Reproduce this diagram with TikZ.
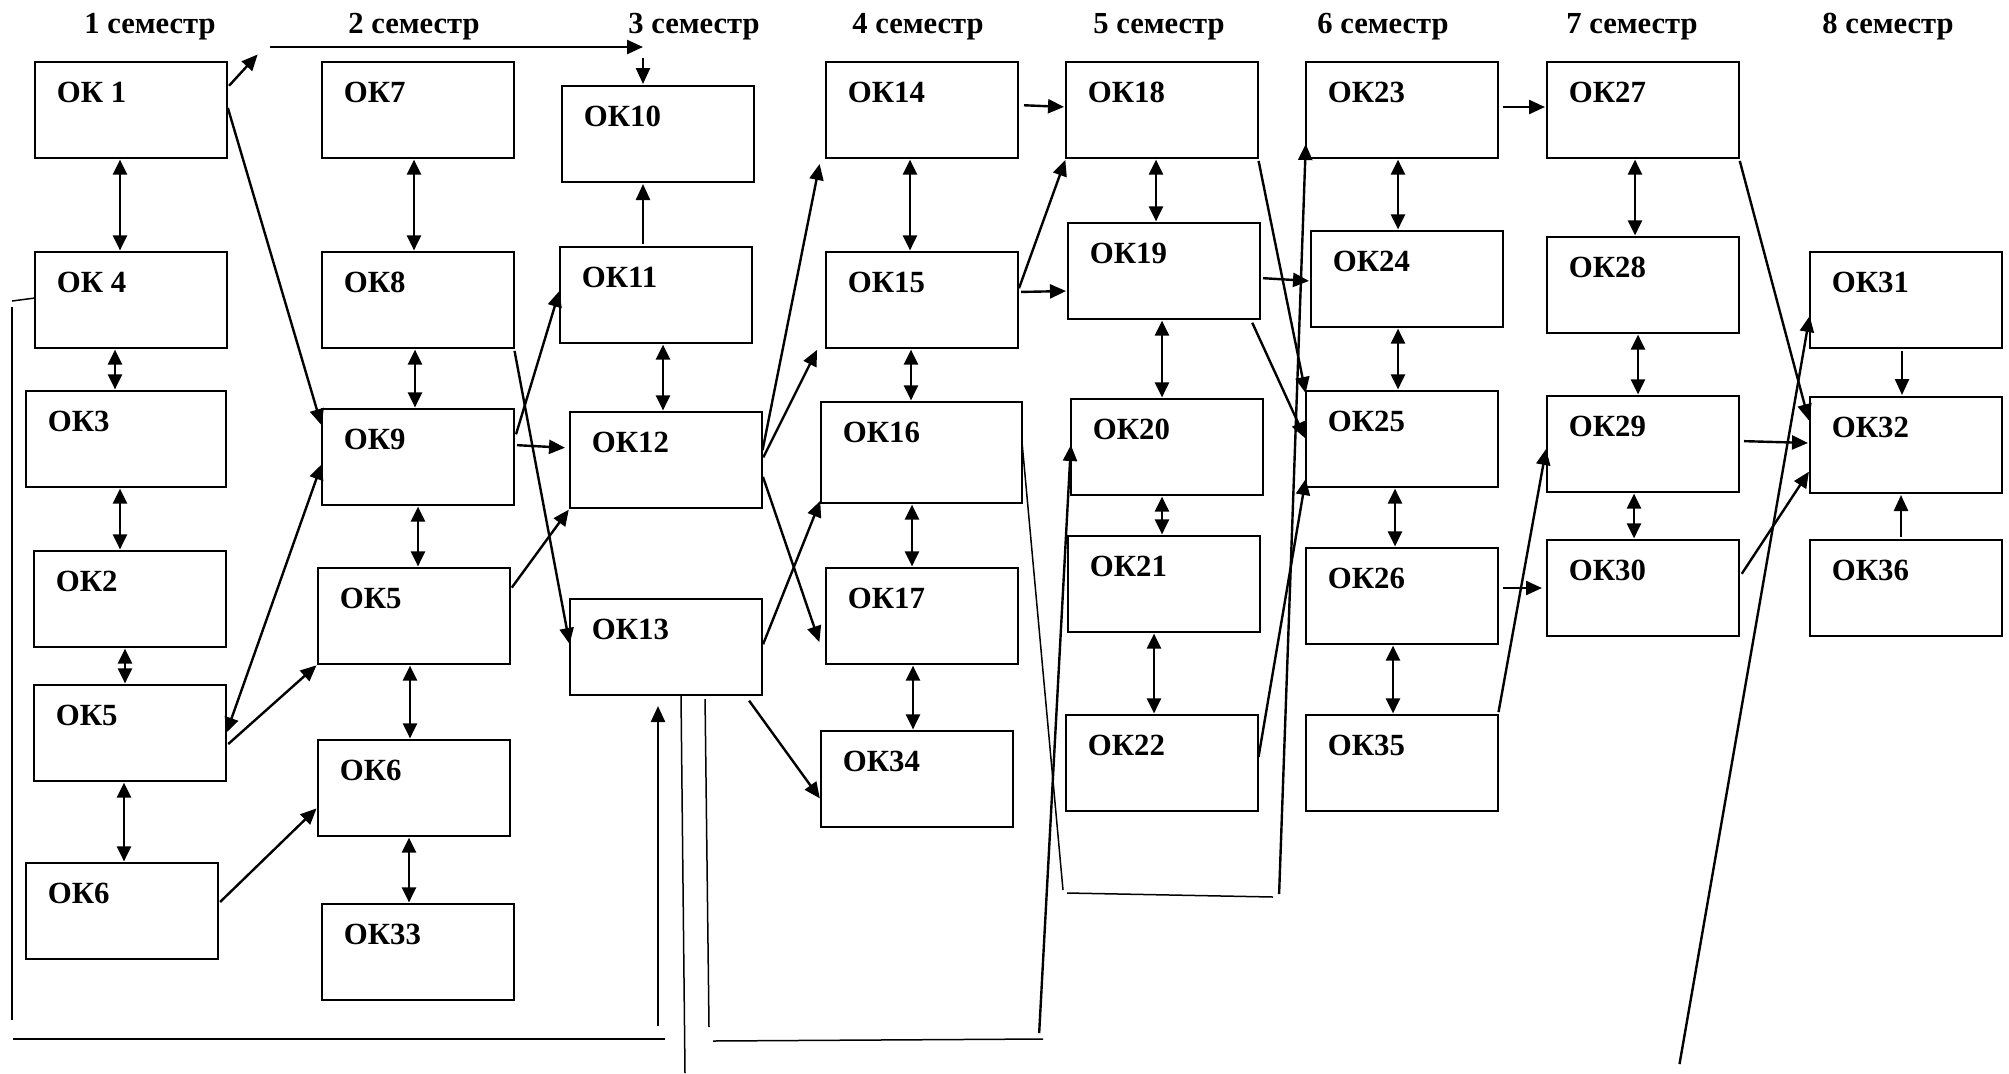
\documentclass[tikz,border=0pt]{standalone}
\usepackage{fontspec}
\setmainfont{Liberation Serif}
\usetikzlibrary{arrows.meta,calc}
\tikzset{
  okbox/.style={draw, line width=1.1pt, rectangle, inner sep=0pt, outer sep=0pt,
                anchor=north west, minimum width=96pt, minimum height=48pt},
  oklabel/.style={anchor=north west, inner sep=0pt, xshift=10.75pt, yshift=-10pt,
                font=\bfseries\fontsize{15.4pt}{18pt}\selectfont},
  semhead/.style={anchor=base, inner sep=0pt,
                font=\bfseries\fontsize{15.3pt}{18pt}\selectfont},
  oneway/.style={-{Triangle[length=8pt,width=7pt]}, line width=1.2pt,
                shorten <=1.5pt, shorten >=1pt},
  twoway/.style={{Triangle[length=7.5pt,width=7pt]}-{Triangle[length=7.5pt,width=7pt]},
                line width=1.2pt, shorten <=0.8pt, shorten >=0.8pt},
  bare/.style={line width=0.75pt},
}

\begin{document}
\begin{tikzpicture}[x=0.5pt, y=-0.5pt]
\path[use as bounding box, fill=white] (0,0) rectangle (2009,1073);

% semester headers
\foreach \s/\x in {1/150,2/414,3/694,4/918,5/1159,6/1383,7/1632,8/1888}
  \node[semhead] (sem\s) at (\x,33.4) {\s\ семестр};

% boxes
\foreach \n/\x/\y/\t in {ok1/35/62/{ОК 1}, ok4/35/252/{ОК 4}, ok2/34/551/ОК2,
    ok5a/34/685/ОК5, ok6a/26/863/ОК6,
    ok7/322/62/ОК7, ok8/322/252/ОК8, ok9/322/409/ОК9, ok5b/318/568/ОК5,
    ok6b/318/740/ОК6, ok33/322/904/ОК33,
    ok10/562/86/ОК10, ok11/560/247/ОК11, ok12/570/412/ОК12, ok13/570/599/ОК13,
    ok14/826/62/ОК14, ok15/826/252/ОК15, ok17/826/568/ОК17, ok34/821/731/ОК34,
    ok18/1066/62/ОК18, ok19/1068/223/ОК19, ok20/1071/399/ОК20,
    ok21/1068/536/ОК21, ok22/1066/715/ОК22,
    ok23/1306/62/ОК23, ok24/1311/231/ОК24, ok25/1306/391/ОК25,
    ok26/1306/548/ОК26, ok35/1306/715/ОК35,
    ok27/1547/62/ОК27, ok28/1547/237/ОК28, ok29/1547/396/ОК29, ok30/1547/540/ОК30,
    ok31/1810/252/ОК31, ok32/1810/397/ОК32, ok36/1810/540/ОК36}
  \node[okbox, label={[oklabel]north west:\t}] (\n) at (\x,\y) {};
\node[okbox, minimum width=100pt, label={[oklabel]north west:ОК3}] (ok3) at (26,391) {};
\node[okbox, minimum width=100.5pt, minimum height=50.5pt,
      label={[oklabel]north west:ОК16}] (ok16) at (821,402) {};

% loose ends
\coordinate (jmpA) at (259,53);
\coordinate (jmpB) at (267,47);
\coordinate (jmpC) at (645,47);
\coordinate (jmpD) at (643,55);
\coordinate (lfA) at (12,301);
\coordinate (lfB) at (12,307);
\coordinate (lfC) at (12,1020);
\coordinate (lfD) at (13,1039);
\coordinate (lfE) at (665,1039);
\coordinate (lfF) at (658,1029);
\coordinate (dnA) at (685,1073);
\coordinate (dnB) at (709,1027);
\coordinate (dnC) at (713,1041);
\coordinate (dnD) at (1043,1039);
\coordinate (dnE) at (1039,1036);
\coordinate (rtA) at (1063,890);
\coordinate (rtB) at (1067,893);
\coordinate (rtC) at (1273,897);
\coordinate (rtD) at (1279,897);
\coordinate (farA) at (1679,1067);

% vertical links inside a semester
\foreach \a/\b/\x in {ok1/ok4/120, ok4/ok3/115, ok3/ok2/120, ok2/ok5a/125, ok5a/ok6a/124,
    ok7/ok8/414, ok8/ok9/415, ok9/ok5b/418, ok5b/ok6b/410, ok6b/ok33/409,
    ok11/ok12/663,
    ok14/ok15/910, ok15/ok16/911, ok16/ok17/912, ok17/ok34/913,
    ok18/ok19/1156, ok19/ok20/1162, ok20/ok21/1162, ok21/ok22/1154,
    ok23/ok24/1398, ok24/ok25/1398, ok25/ok26/1395, ok26/ok35/1393,
    ok27/ok28/1635, ok28/ok29/1638, ok29/ok30/1634}
  \draw[twoway] (\x,0 |- \a.south) -- (\x,0 |- \b.north);
\draw[oneway] (1902,0 |- ok31.south) -- (1902,0 |- ok32.north);
\draw[oneway] (1901,0 |- ok36.north) -- (1901,0 |- ok32.south);
\draw[oneway] (643,0 |- ok11.north) -- (643,0 |- ok10.south);

% top jump to OK10
\draw[oneway] (ok1.east |- 0,88) -- (jmpA);
\draw[oneway] (jmpB) -- (jmpC);
\draw[oneway] (jmpD) -- (643,0 |- ok10.north);

% semester 1 -> 2
\draw[oneway] (ok1.east |- 0,105) -- (ok9.west |- 0,427);
\draw[twoway] (ok5a.east |- 0,734) -- (ok9.west |- 0,463);
\draw[oneway] (ok5a.east |- 0,746) -- (ok5b.south west);
\draw[oneway] (ok6a.east |- 0,904) -- (ok6b.west |- 0,807);

% semester 2 -> 3
\draw[oneway, shorten >=2.5pt] (ok9.east |- 0,445) -- (ok12.west |- 0,448);
\draw[oneway, shorten <=3.5pt] (ok9.east |- 0,441) -- (ok11.west |- 0,289);
\draw[oneway] (ok8.south east) -- (ok13.west |- 0,646);
\draw[oneway] (ok5b.east |- 0,590) -- (ok12.south west);

% semester 3 -> 4
\draw[oneway] (ok12.east |- 0,453) -- ($(ok14.south west)+(-6,4)$);
\draw[oneway] (ok12.east |- 0,460) -- ($(ok15.south west)+(-8,0)$);
\draw[oneway] (ok12.east |- 0,474) -- ($(ok17.west |- 0,644)+(-6,0)$);
\draw[oneway] (ok13.east |- 0,647) -- (ok16.west |- 0,499);
\draw[oneway, shorten <=3.5pt] (745,0 |- ok13.south) -- (ok34.west |- 0,800);

% semester 4 -> 5
\draw[oneway, shorten <=3pt] (ok14.east |- 0,105) -- (ok18.west |- 0,107);
\draw[oneway] (ok15.east |- 0,291) -- (ok18.south west);
\draw[oneway] (ok15.east |- 0,292) -- (ok19.west |- 0,291);

% semester 5 -> 6
\draw[oneway] (ok18.south east) -- (ok25.west |- 0,395);
\draw[oneway] (ok19.east |- 0,278) -- (ok24.west |- 0,281);
\draw[oneway] ($(ok19.south east)+(-9,1)$) -- (ok25.west |- 0,440);
\draw[oneway] (ok22.east |- 0,760) -- (ok25.west |- 0,477);

% semester 6 -> 7
\draw[oneway, shorten <=2.5pt] (ok23.east |- 0,107) -- (ok27.west |- 0,107);
\draw[oneway, shorten <=2.5pt, shorten >=2.5pt] (ok26.east |- 0,588) -- (ok30.west |- 0,588);
\draw[oneway, shorten >=2.5pt] (ok35.north east) -- (ok29.west |- 0,444);

% semester 7 -> 8
\draw[oneway, shorten >=2.5pt] (ok27.south east) -- (ok32.west |- 0,425);
\draw[oneway, shorten <=2.5pt] (ok29.east |- 0,441) -- (ok32.west |- 0,443);
\draw[oneway, shorten <=2.5pt] (ok30.east |- 0,578) -- (ok32.west |- 0,470);
\draw[oneway] (farA) -- (ok31.west |- 0,314);

% long returns along the bottom
\draw[bare] (ok4.west |- 0,298) -- (lfA);
\draw[bare] (lfB) -- (lfC);
\draw[bare] (lfD) -- (lfE);
\draw[oneway, shorten >=5.5pt] (lfF) -- (658,0 |- ok13.south);
\draw[bare] (681,0 |- ok13.south) -- (dnA);
\draw[bare, shorten <=2pt] (705,0 |- ok13.south) -- (dnB);
\draw[bare] (dnC) -- (dnD);
\draw[oneway] (dnE) -- (ok20.west |- 0,443);
\draw[bare] (ok16.east |- 0,442) -- (rtA);
\draw[bare] (rtB) -- (rtC);
\draw[oneway, shorten >=3pt] (rtD) -- (ok23.west |- 0,138);
\end{tikzpicture}
\end{document}
